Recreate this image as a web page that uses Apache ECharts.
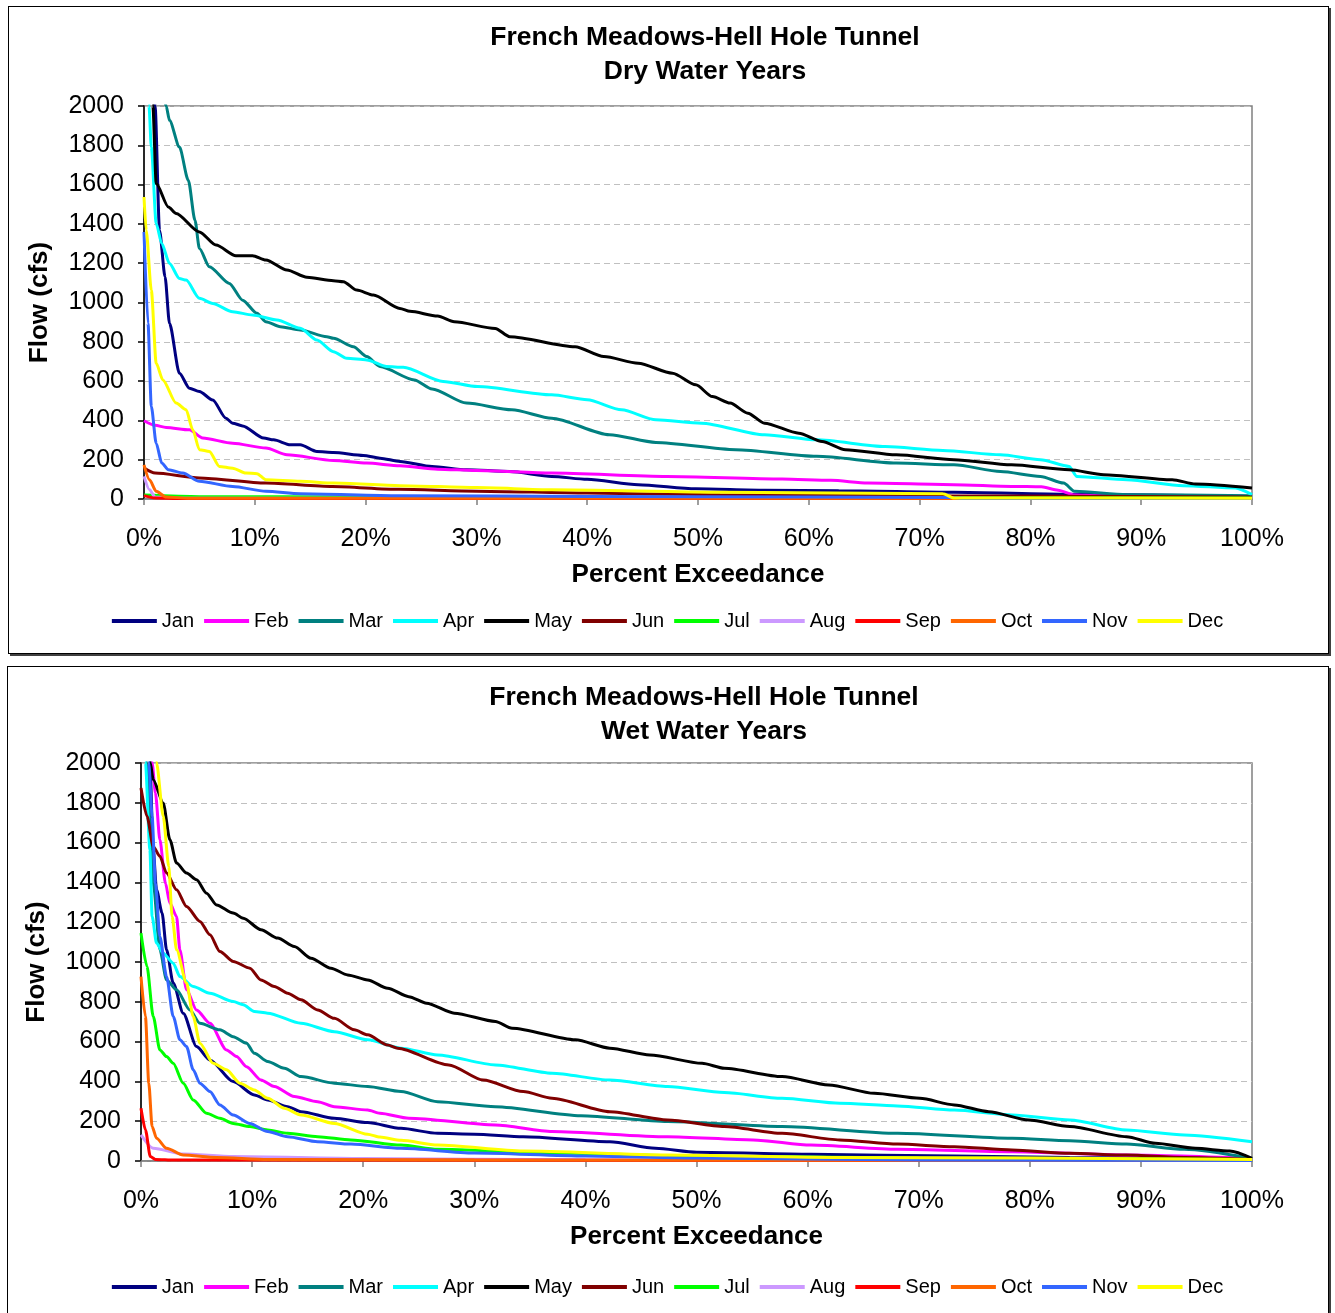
<!DOCTYPE html>
<html><head><meta charset="utf-8">
<script src="https://cdn.jsdelivr.net/npm/echarts@6/dist/echarts.min.js"></script>
<style>
html,body{margin:0;padding:0;background:#fff;width:1335px;height:1313px;overflow:hidden}
.box{position:absolute;border:1px solid #000;box-shadow:2px 2px 0 #404040;background:#fff}
#chart{position:absolute;left:0;top:0;width:1335px;height:1313px}
</style></head><body>
<div class="box" style="left:8px;top:6px;width:1319px;height:646px"></div>
<div class="box" style="left:7px;top:666px;width:1320px;height:700px"></div>
<div id="chart"></div>
<script>
// ---------- data: [percent exceedance, flow cfs] ----------
const months = ['Jan','Feb','Mar','Apr','May','Jun','Jul','Aug','Sep','Oct','Nov','Dec'];
const colors = ['#000080','#FF00FF','#008080','#00FFFF','#000000','#800000','#00FF00','#CC99FF','#FF0000','#FF6600','#3366FF','#FFFF00'];

// Dry water years
const dryJan = [[0,3200],[0.5,2600],[1,2000],[1.4,1368],[1.9,1131],[2.3,894],[3.2,640],[4.1,564],[5,547],[6.2,504],[7.4,411],[8,386],[8.9,372],[10.8,310],[11.7,301],[13.2,276],[14.1,276],[15.6,242],[17.1,237],[19.8,222],[21.3,208],[23.1,191],[26,165],[29.1,149],[33,140],[36.8,115],[40,100],[44.6,73],[49.8,52],[56,45],[62.7,42],[73.1,34],[83.5,24],[100,13]];
const dryFeb = [[0,398],[1,375],[2,364],[4.1,352],[5.3,310],[8,284],[11,259],[12.9,225],[17.1,196],[20.1,183],[23.1,169],[26.5,152],[30,145],[36.8,132],[47.2,115],[57.6,102],[62,95],[65.3,81],[73.1,73],[78.3,64],[81,62],[82.5,45],[84,20],[86,17],[100,13]];
const dryMar = [[0,3500],[1,2600],[2,2000],[2.3,1927],[3.2,1791],[4,1622],[4.6,1419],[5,1275],[5.9,1182],[7.7,1097],[8.9,1012],[10.2,945],[11,902],[12.3,877],[14.1,860],[16.5,826],[17.1,818],[18.9,775],[20.1,725],[21.3,674],[24.4,606],[26,560],[29.1,488],[33.2,454],[36.8,411],[42,327],[46.2,288],[53.4,251],[60.7,217],[67.9,183],[73.1,174],[77.3,140],[80.9,115],[83,81],[84,39],[88.7,22],[100,17]];
const dryApr = [[0,3500],[0.45,2000],[0.66,1791],[1.1,1402],[1.6,1300],[2.3,1199],[3.2,1122],[3.8,1114],[5,1021],[6.2,995],[8,953],[9.8,936],[12,911],[14.1,869],[15.6,809],[17.1,750],[18.3,716],[20.1,708],[21.9,674],[23.4,670],[27,598],[30.1,572],[36.8,530],[40,505],[43.1,454],[46.2,403],[50.3,386],[56,327],[60.7,301],[66.9,267],[72.1,247],[77.3,225],[80.9,200],[83.5,166],[84.2,115],[88.7,98],[93.8,68],[98.5,56],[100,22]];
const dryMay = [[0,4500],[0.8,2000],[1.1,1605],[2.2,1486],[2.9,1453],[5,1359],[6.5,1292],[8.3,1238],[9.8,1238],[11,1216],[12.9,1165],[14.7,1128],[17.1,1111],[18,1106],[19.2,1063],[20.7,1038],[23.1,970],[24,955],[26.5,931],[28,902],[31.7,868],[33,826],[38.9,775],[41.5,725],[44.6,691],[47.7,640],[49.8,581],[51.3,521],[52.9,488],[54.5,437],[56,386],[59.1,335],[61.2,293],[63.3,251],[67.9,225],[73.1,200],[78.3,174],[83.5,149],[86.6,124],[92.8,98],[94.9,76],[100,56]];
const dryJun = [[0,157],[1,132],[5,107],[11,81],[17,64],[23,49],[30,40],[40,30],[52,22],[70,17],[100,10]];
const dryJul = [[0,20],[5,12],[20,10],[50,8],[100,5]];
const dryAug = [[0,115],[0.5,47],[1,10],[3,4],[100,2]];
const drySep = [[0,17],[1,5],[3,3],[100,2]];
const dryOct = [[0,174],[0.5,98],[1.1,39],[2,10],[4,4],[100,3]];
const dryNov = [[0,1359],[0.36,894],[0.66,471],[1.1,284],[1.6,183],[2.2,149],[3.5,132],[5,90],[8,64],[11,39],[14.1,27],[23,17],[40,13],[60,10],[73,8],[74,3],[100,2]];
const dryDec = [[0,1537],[0.2,1368],[0.66,1063],[1.1,691],[1.7,606],[2.9,488],[3.8,454],[4.4,352],[5,251],[5.9,242],[6.8,166],[8,157],[9.2,132],[10.2,129],[11,98],[14.1,90],[17.1,81],[23.1,68],[30,58],[36.8,47],[52.4,34],[72.1,27],[73.1,5],[100,4]];

// Wet water years
const wetJan = [[0,3500],[0.8,2000],[1.1,1564],[1.4,1363],[1.9,1246],[2.3,1061],[2.9,894],[3.8,743],[5,575],[6.2,508],[8.3,399],[10.2,332],[11.4,307],[13.2,273],[14.4,248],[17.4,215],[20.4,193],[23.4,164],[26.7,139],[30,135],[34.4,122],[42.2,97],[46.3,64],[50,44],[60.3,34],[73.2,25],[83.6,18],[100,8]];
const wetFeb = [[0,3500],[1,2000],[1.3,1849],[1.7,1614],[2.2,1396],[2.6,1296],[3.2,1229],[3.5,1061],[4.1,860],[5,759],[6.2,692],[7.7,558],[8.6,525],[9.5,474],[10.8,407],[12,374],[13.8,324],[15.9,298],[17.4,273],[20.4,256],[21.5,240],[24.1,215],[31.9,181],[37,148],[47.4,122],[55.1,106],[60.3,80],[68.1,59],[78.4,47],[88.7,30],[100,13]];
const wetMar = [[0,3500],[0.5,2000],[1.1,1396],[1.7,1061],[2.3,910],[3.2,860],[4.4,759],[5.3,692],[7.1,659],[8.3,625],[9.5,592],[10.2,541],[11.4,500],[12.9,466],[14.4,424],[17.4,391],[20.4,374],[23.4,349],[26.7,298],[31.9,273],[39.6,228],[47.4,198],[57.7,173],[68.1,139],[78.4,114],[83.6,102],[88.7,85],[93.9,59],[100,13]];
const wetApr = [[0,3500],[0.4,2000],[0.8,1564],[1,1229],[1.4,1095],[2,1044],[2.9,994],[3.5,927],[4.7,877],[6.2,843],[8.3,801],[9.2,785],[10.2,751],[11.4,743],[14.4,692],[17.4,650],[20.4,609],[23.4,567],[26.7,533],[31.9,483],[37,441],[42.2,407],[47.4,374],[52.5,344],[57.7,315],[62.9,290],[68.1,277],[73.2,256],[78.4,231],[83.6,206],[88.7,156],[93.9,131],[100,97]];
const wetMay = [[0,4000],[0.84,2000],[1.1,1916],[2,1799],[2.6,1614],[3.2,1497],[4.1,1447],[5,1413],[5.9,1346],[6.8,1287],[8.3,1246],[9.2,1220],[10.8,1162],[12.3,1120],[13.8,1078],[15.3,1019],[17.1,969],[18.6,935],[20.4,910],[22.2,868],[24.1,826],[25.7,793],[28.2,743],[31.9,701],[33.4,667],[39.1,609],[42.2,567],[45.8,533],[50.5,491],[52.5,466],[57.7,424],[61.9,382],[66,340],[70.1,315],[73.2,282],[76.3,248],[79.9,206],[83.6,173],[88.7,122],[91.3,89],[94.9,64],[98,50],[100,13]];
const wetJun = [[0,1874],[0.54,1732],[1.1,1581],[1.7,1531],[2.3,1447],[3.2,1363],[4.1,1279],[5.3,1204],[6.2,1137],[7.1,1053],[8.3,1003],[9.8,969],[10.8,910],[12,877],[13.2,843],[14.4,810],[15.9,759],[17.4,717],[19.2,659],[20.4,634],[22.2,583],[23.1,567],[27.7,483],[30.8,407],[34.4,349],[37,315],[42.2,248],[47.4,206],[52.5,173],[57.7,139],[62.9,106],[68.1,85],[73.2,72],[78.4,55],[83.6,39],[88.7,30],[93.9,18],[100,8]];
const wetJul = [[0,1145],[0.54,977],[1.1,726],[1.7,558],[2.3,525],[2.9,491],[3.8,391],[4.7,307],[5.9,240],[7.1,215],[8.3,189],[9.8,173],[11.4,156],[13.2,139],[15.9,122],[18.9,106],[23.4,80],[26.7,59],[37,40],[50,25],[70,15],[100,8]];
const wetAug = [[0,131],[1.1,64],[3.8,35],[8.3,22],[20,12],[40,6],[100,4]];
const wetSep = [[0,265],[0.4,156],[0.84,22],[1.3,8],[3,5],[100,3]];
const wetOct = [[0,927],[0.4,726],[0.7,391],[1,173],[1.4,114],[2.3,64],[3.8,30],[6.8,18],[11.4,8],[30,5],[100,3]];
const wetNov = [[0,3500],[0.7,2000],[1,1732],[1.3,1396],[1.7,1128],[2.3,927],[2.9,726],[3.5,609],[4.1,575],[4.7,458],[5.3,391],[6.2,349],[7.1,282],[8.3,231],[9.8,189],[11.4,148],[13.2,122],[15.9,97],[18.9,85],[23.4,64],[30,40],[40,25],[50,15],[70,5],[100,3]];
const wetDec = [[0,4000],[1.4,2000],[2,1732],[2.5,1480],[2.8,1229],[3.2,1061],[4.1,894],[4.7,726],[5.3,592],[6.5,491],[7.7,458],[8.9,391],[10.2,357],[11.4,315],[12.9,265],[14.4,231],[17.4,189],[20.4,135],[21.5,120],[23.4,104],[26.7,80],[34.4,50],[47.4,30],[62.9,18],[100,8]];

const dryData = [dryJan,dryFeb,dryMar,dryApr,dryMay,dryJun,dryJul,dryAug,drySep,dryOct,dryNov,dryDec];
const wetData = [wetJan,wetFeb,wetMar,wetApr,wetMay,wetJun,wetJul,wetAug,wetSep,wetOct,wetNov,wetDec];
const titles = [['French Meadows-Hell Hole Tunnel','Dry Water Years'],['French Meadows-Hell Hole Tunnel','Wet Water Years']];
const xAxisName = 'Percent Exceedance';
const yAxisName = 'Flow (cfs)';

// ---------- chart ----------
const FONT = '"Liberation Sans", Arial, sans-serif';
const chart = echarts.init(document.getElementById('chart'), null, {renderer:'canvas'});

function xAxisCfg(gi){
  return {type:'value', gridIndex:gi, min:0, max:100, interval:10,
    name:xAxisName, nameLocation:'middle', nameGap:63,
    nameTextStyle:{fontSize:26, fontWeight:'bold', color:'#000', fontFamily:FONT},
    axisLine:{show:true, onZero:false, lineStyle:{color:'#808080', width:1.5}},
    axisTick:{show:true, inside:false, length:6, lineStyle:{color:'#808080', width:1.5}},
    axisLabel:{formatter:'{value}%', fontSize:25, color:'#000', margin:28, fontFamily:FONT, hideOverlap:false},
    splitLine:{show:false}};
}
function yAxisCfg(gi){
  return {type:'value', gridIndex:gi, min:0, max:2000, interval:200,
    name:yAxisName, nameLocation:'middle', nameGap:91, nameRotate:90,
    nameTextStyle:{fontSize:26, fontWeight:'bold', color:'#000', fontFamily:FONT},
    axisLine:{show:true, lineStyle:{color:'#000', width:1.5}},
    axisTick:{show:true, inside:false, length:6, lineStyle:{color:'#000', width:1.5}},
    axisLabel:{formatter:(v)=>String(v), fontSize:25, color:'#000', margin:20, fontFamily:FONT, hideOverlap:false},
    splitLine:{show:true, lineStyle:{color:'#c0c0c0', type:[6,4], width:1.2}}};
}
function seriesFor(dataSets, gi){
  return dataSets.map((d,i)=>({
    type:'line', name:months[i], xAxisIndex:gi, yAxisIndex:gi, data:d,
    symbol:'none', showSymbol:false, clip:true, smooth:0.25, smoothMonotone:'x',
    lineStyle:{width:3, color:colors[i]}, itemStyle:{color:colors[i]},
    emphasis:{disabled:true}, z:2+i
  }));
}
function legendCfg(top){
  return {data:months, top:top, left:'center', icon:'rect', itemWidth:45, itemHeight:4, itemGap:10,
    padding:0, textStyle:{fontSize:20, color:'#000', fontFamily:FONT}, selectedMode:false};
}
function titleText(x, y, t){
  return {type:'text', x:x, y:y, silent:true,
    style:{text:t, font:'bold 26.5px ' + FONT, fill:'#000', align:'center', textAlign:'center', verticalAlign:'middle', textVerticalAlign:'middle'}};
}

chart.setOption({
  animation:false,
  backgroundColor:'transparent',
  grid:[
    {left:144, top:106, width:1108, height:393, show:true, borderColor:'#808080', borderWidth:1.5, backgroundColor:'transparent', containLabel:false, outerBoundsMode:'none'},
    {left:141, top:763, width:1111, height:398, show:true, borderColor:'#808080', borderWidth:1.5, backgroundColor:'transparent', containLabel:false, outerBoundsMode:'none'}
  ],
  xAxis:[xAxisCfg(0), xAxisCfg(1)],
  yAxis:[yAxisCfg(0), yAxisCfg(1)],
  legend:[legendCfg(611), legendCfg(1277)],
  tooltip:{show:false},
  graphic:[
    titleText(705, 38, titles[0][0]), titleText(705, 72, titles[0][1]),
    titleText(704, 698, titles[1][0]), titleText(704, 732, titles[1][1])
  ],
  series: seriesFor(dryData,0).concat(seriesFor(wetData,1))
});
</script>
</body></html>
